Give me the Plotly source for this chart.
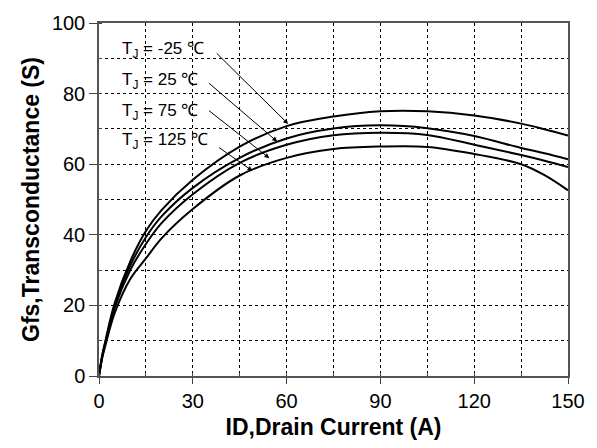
import plotly.graph_objects as go

id_current = [0, 1, 2, 5, 10, 15, 20, 30, 45, 60, 75, 90, 105, 120, 135, 142.5, 150]
gfs_m25 = [0, 5.8, 9.8, 20.6, 32.5, 41.1, 47.0, 55.6, 65.0, 70.8, 73.5, 75.0, 75.0, 73.8, 71.5, 69.9, 68.1]
gfs_25 = [0, 5.5, 9.4, 19.9, 31.3, 39.3, 45.2, 53.3, 61.8, 67.3, 70.1, 71.0, 70.2, 68.0, 64.6, 63.1, 61.4]
gfs_75 = [0, 5.3, 9.1, 19.3, 30.0, 37.4, 43.3, 51.5, 60.4, 65.5, 68.2, 68.9, 68.3, 65.5, 62.6, 61.0, 59.2]
gfs_125 = [0, 5.0, 8.5, 17.8, 27.5, 33.3, 39.0, 47.3, 56.8, 61.8, 64.3, 65.0, 64.9, 62.9, 60.0, 56.9, 52.6]

labels = ["T<sub>J</sub> = -25 ℃", "T<sub>J</sub> = 25 ℃", "T<sub>J</sub> = 75 ℃", "T<sub>J</sub> = 125 ℃"]
label_y = [92.4, 83.7, 74.9, 66.6]
arrow_tail = [(37.2, 91.8), (34.7, 83.3), (34.7, 75.5), (37.9, 65.0)]
arrow_head = [(60.5, 71.4), (57.0, 66.4), (54.5, 61.7), (49.1, 58.1)]

FONT = "Liberation Sans, Arial"
fig = go.Figure()
for ys in [gfs_m25, gfs_25, gfs_75, gfs_125]:
    fig.add_trace(go.Scatter(x=id_current, y=ys, mode="lines",
                             line=dict(color="black", width=2, shape="spline", smoothing=1.0),
                             showlegend=False, hoverinfo="skip"))

for lab, ly in zip(labels, label_y):
    fig.add_annotation(x=6.8, y=ly, text=lab, showarrow=False, xanchor="left", yanchor="middle",
                       font=dict(family=FONT, size=17, color="black"))
for (tx, ty), (hx, hy) in zip(arrow_tail, arrow_head):
    fig.add_annotation(x=hx, y=hy, ax=tx, ay=ty, axref="x", ayref="y", xref="x", yref="y",
                       text="", showarrow=True, arrowhead=2, arrowsize=1, arrowwidth=1,
                       arrowcolor="black")

grid = dict(showgrid=True, gridcolor="black", gridwidth=1, griddash="3px,3px")
fig.update_xaxes(range=[0, 150], tick0=0, dtick=30, ticks="outside", ticklen=6, tickcolor="#444",
                 showline=True, mirror=True, linecolor="#555", linewidth=1.5,
                 minor=dict(dtick=15, showgrid=True, gridcolor="black", griddash="3px,3px",
                            ticks="inside", ticklen=3, tickcolor="#444"),
                 zeroline=False,
                 tickfont=dict(family=FONT, size=20, color="black"),
                 title=dict(text="<b>ID,Drain Current (A)</b>", standoff=8,
                            font=dict(family=FONT, size=23, color="black")),
                 **grid)
fig.update_yaxes(range=[0, 100], tick0=0, dtick=20, ticks="outside", ticklen=8, tickcolor="#444",
                 showline=True, mirror=True, linecolor="#555", linewidth=1.5,
                 minor=dict(dtick=10, showgrid=True, gridcolor="black", griddash="3px,3px",
                            ticks="inside", ticklen=3, tickcolor="#444"),
                 zeroline=False,
                 tickfont=dict(family=FONT, size=20, color="black"),
                 title=dict(text="<b>Gfs,Transconductance (S)</b>", standoff=6,
                            font=dict(family=FONT, size=23, color="black")),
                 **grid)

fig.update_layout(width=597, height=448, margin=dict(l=99, r=28, t=18, b=67),
                  paper_bgcolor="white", plot_bgcolor="white")
fig.write_html("out.html")
